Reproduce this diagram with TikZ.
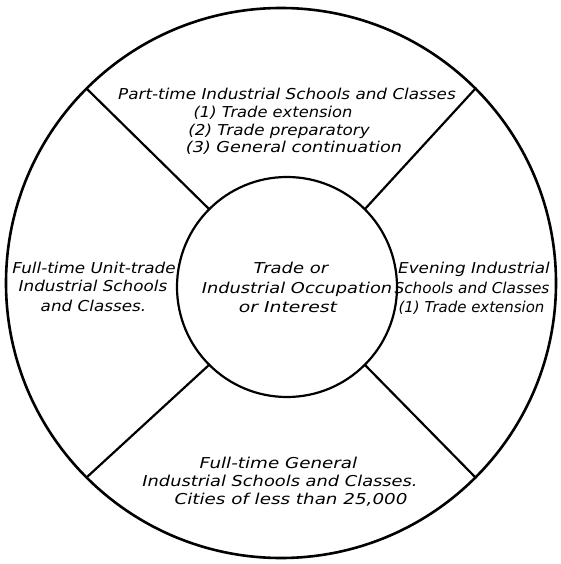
\documentclass[tikz,border=0pt]{standalone}
\usepackage{graphicx}
\usepackage{fontspec}
\setmainfont{DejaVu Sans}[FakeStretch=1.12]
\newcommand{\hsq}[2]{\scalebox{#1}[1]{#2}}
\begin{document}
\begin{tikzpicture}[x=1pt,y=-1pt,
  lbl/.style={font=\itshape\fontsize{15}{17}\selectfont, inner sep=0pt, anchor=base},
  ring/.style={circle, draw, inner sep=0pt, outer sep=0pt},
  divider/.style={line width=2.2pt}]
\useasboundingbox (0,0) rectangle (561,564);
\node[ring, line width=2.6pt, minimum size=550pt] (outer) at (281,283) {};
\node[ring, line width=2.2pt, minimum size=220pt] (inner) at (287,287) {};
\foreach \a in {45,135,225,315}{
  \draw[divider] (inner.\a) -- (outer.\a);
}
% top
\node[lbl] (t1) at (287,100) {Part-time Industrial Schools and Classes};
\node[lbl] (t2) at (273,118) {\hsq{0.97}{(1) Trade extension}};
\node[lbl] (t3) at (279,136) {(2) Trade preparatory};
\node[lbl] (t4) at (294,153) {\hsq{1.05}{(3) General continuation}};
% left
\node[lbl] (l1) at (94,273) {Full-time Unit-trade};
\node[lbl] (l2) at (93,291) {Industrial Schools};
\node[lbl] (l3) at (93.5,311) {and Classes.};
% centre
\node[lbl] (c1) at (291,273) {\hsq{1.07}{Trade or}};
\node[lbl] (c2) at (297,293) {\hsq{1.06}{Industrial Occupation}};
\node[lbl] (c3) at (288,312) {\hsq{1.12}{or Interest}};
% right
\node[lbl] (r1) at (474,273) {Evening Industrial};
\node[lbl] (r2) at (472,293) {\hsq{0.91}{Schools and Classes}};
\node[lbl] (r3) at (471.5,312) {\hsq{0.89}{(1) Trade extension}};
% bottom
\node[lbl] (b1) at (278.5,468) {\hsq{1.09}{Full-time General}};
\node[lbl] (b2) at (280,486) {\hsq{1.06}{Industrial Schools and Classes.}};
\node[lbl] (b3) at (291,504) {\hsq{1.09}{Cities of less than 25,000}};
\end{tikzpicture}
\end{document}
